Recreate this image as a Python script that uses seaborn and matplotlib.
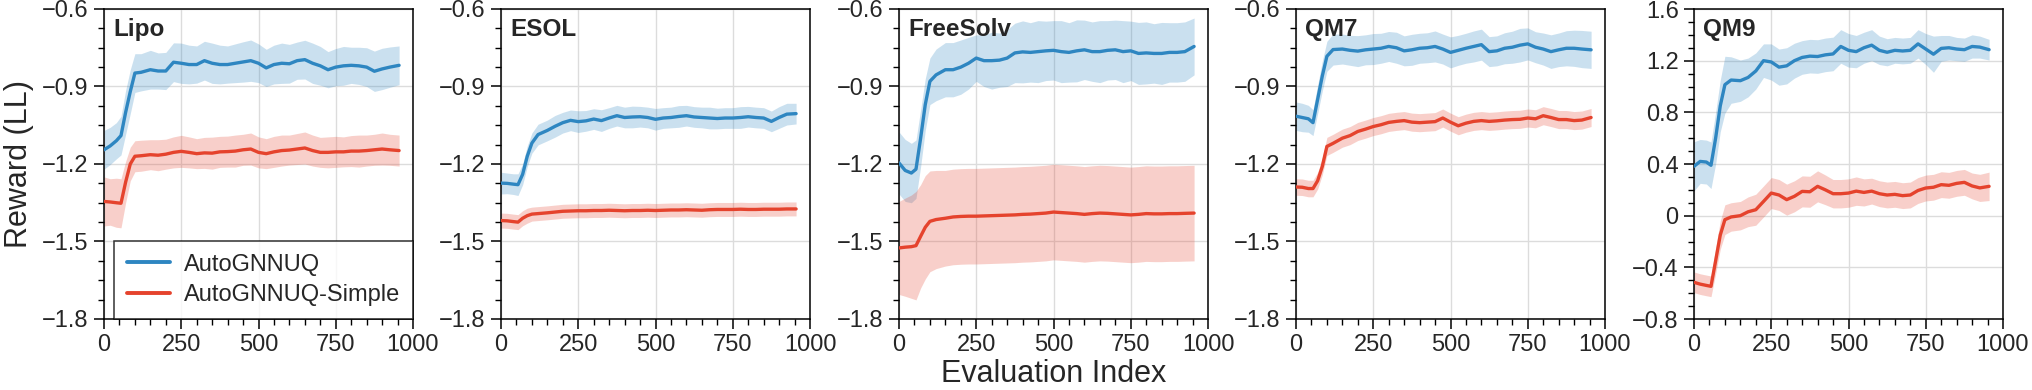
import numpy as np
import pandas as pd
import matplotlib
matplotlib.use("Agg")
import matplotlib.pyplot as plt
from matplotlib.ticker import MultipleLocator, FuncFormatter
from matplotlib.lines import Line2D
import seaborn as sns

# ---------------- data ----------------
x_index = [0, 20, 40, 55, 70, 85, 100, 120, 150, 175, 200, 225, 250, 275, 300, 325, 350, 375,
           400, 425, 450, 475, 500, 525, 550, 575, 600, 625, 650, 675, 700, 725, 750, 775,
           800, 825, 850, 875, 900, 925, 955]

datasets = ["Lipo", "ESOL", "FreeSolv", "QM7", "QM9"]
series_names = ["AutoGNNUQ", "AutoGNNUQ-Simple"]

lipo_full = [-1.145, -1.13, -1.11, -1.09, -1.0, -0.92, -0.848, -0.845, -0.835, -0.84, -0.84, -0.806,
             -0.81, -0.815, -0.815, -0.80, -0.81, -0.815, -0.815, -0.81, -0.805, -0.80, -0.81, -0.828,
             -0.815, -0.81, -0.812, -0.80, -0.796, -0.81, -0.82, -0.835, -0.825, -0.82, -0.818, -0.82,
             -0.825, -0.841, -0.832, -0.825, -0.818]
lipo_full_sd = [0.075, 0.072, 0.07, 0.075, 0.085, 0.085, 0.075, 0.072, 0.075, 0.07, 0.072, 0.075,
                0.078, 0.075, 0.072, 0.075, 0.078, 0.075, 0.072, 0.075, 0.078, 0.08, 0.075, 0.072,
                0.075, 0.078, 0.075, 0.072, 0.075, 0.078, 0.075, 0.07, 0.072, 0.075, 0.07, 0.072,
                0.075, 0.078, 0.08, 0.078, 0.075]
lipo_simple = [-1.345, -1.347, -1.35, -1.352, -1.27, -1.20, -1.17, -1.168, -1.164, -1.166, -1.162, -1.155,
               -1.151, -1.155, -1.16, -1.157, -1.158, -1.153, -1.152, -1.15, -1.145, -1.142, -1.155, -1.16,
               -1.153, -1.148, -1.146, -1.142, -1.138, -1.148, -1.155, -1.155, -1.153, -1.153, -1.15, -1.15,
               -1.148, -1.145, -1.142, -1.145, -1.148]
lipo_simple_sd = [0.095, 0.09, 0.095, 0.095, 0.08, 0.065, 0.06, 0.06, 0.058, 0.06, 0.058, 0.06,
                  0.062, 0.06, 0.058, 0.06, 0.062, 0.06, 0.06, 0.062, 0.06, 0.062, 0.06, 0.058,
                  0.06, 0.06, 0.058, 0.06, 0.062, 0.06, 0.058, 0.06, 0.06, 0.058, 0.06, 0.062,
                  0.06, 0.06, 0.062, 0.06, 0.06]

esol_full = [-1.274, -1.275, -1.278, -1.28, -1.24, -1.17, -1.119, -1.086, -1.07, -1.054, -1.04, -1.031,
             -1.036, -1.033, -1.026, -1.032, -1.022, -1.013, -1.02, -1.018, -1.017, -1.02, -1.027, -1.022,
             -1.02, -1.016, -1.013, -1.018, -1.02, -1.022, -1.024, -1.022, -1.022, -1.02, -1.017, -1.02,
             -1.022, -1.035, -1.02, -1.007, -1.005]
esol_full_sd = [0.042, 0.04, 0.04, 0.042, 0.04, 0.04, 0.039, 0.04, 0.04, 0.042, 0.04, 0.04,
                0.042, 0.04, 0.04, 0.042, 0.04, 0.04, 0.04, 0.042, 0.04, 0.04, 0.042, 0.04,
                0.04, 0.042, 0.04, 0.04, 0.04, 0.042, 0.04, 0.04, 0.04, 0.042, 0.04, 0.04,
                0.04, 0.04, 0.042, 0.042, 0.04]
esol_simple = [-1.419, -1.42, -1.423, -1.425, -1.41, -1.40, -1.394, -1.392, -1.389, -1.386, -1.383, -1.382,
               -1.381, -1.381, -1.380, -1.380, -1.379, -1.380, -1.381, -1.380, -1.380, -1.379, -1.380, -1.379,
               -1.378, -1.378, -1.377, -1.378, -1.379, -1.377, -1.376, -1.376, -1.376, -1.375, -1.376, -1.376,
               -1.375, -1.375, -1.375, -1.374, -1.374]
esol_simple_sd = [0.029] * 6 + [0.027] * 35

freesolv_full = [-1.196, -1.225, -1.235, -1.22, -1.10, -0.97, -0.88, -0.855, -0.835, -0.835, -0.825, -0.81,
                 -0.79, -0.80, -0.80, -0.798, -0.79, -0.77, -0.766, -0.768, -0.765, -0.762, -0.76, -0.765,
                 -0.768, -0.762, -0.758, -0.765, -0.765, -0.76, -0.758, -0.765, -0.762, -0.772, -0.77, -0.772,
                 -0.772, -0.768, -0.768, -0.765, -0.745]
freesolv_full_sd = [0.12, 0.12, 0.115, 0.113, 0.11, 0.1, 0.09, 0.1, 0.105, 0.105, 0.105, 0.1,
                    0.09, 0.1, 0.11, 0.105, 0.11, 0.115, 0.12, 0.115, 0.12, 0.115, 0.115, 0.12,
                    0.115, 0.12, 0.115, 0.115, 0.12, 0.115, 0.115, 0.12, 0.115, 0.12, 0.12, 0.115,
                    0.12, 0.115, 0.115, 0.115, 0.11]
freesolv_simple = [-1.525, -1.522, -1.52, -1.516, -1.48, -1.445, -1.422, -1.415, -1.41, -1.405, -1.403, -1.402,
                   -1.402, -1.401, -1.40, -1.399, -1.398, -1.397, -1.395, -1.394, -1.392, -1.39, -1.386, -1.388,
                   -1.39, -1.392, -1.395, -1.392, -1.39, -1.391, -1.393, -1.395, -1.397, -1.395, -1.392, -1.393,
                   -1.393, -1.392, -1.392, -1.391, -1.39]
freesolv_simple_sd = [0.18, 0.19, 0.2, 0.21, 0.2, 0.2, 0.195, 0.19, 0.185, 0.185, 0.185, 0.185,
                      0.185, 0.185, 0.185, 0.185, 0.185, 0.185, 0.185, 0.185, 0.185, 0.185, 0.185, 0.185,
                      0.185, 0.185, 0.185, 0.185, 0.185, 0.185, 0.185, 0.185, 0.185, 0.185, 0.185, 0.185,
                      0.185, 0.185, 0.185, 0.185, 0.185]

qm7_full = [-1.015, -1.02, -1.025, -1.04, -0.95, -0.86, -0.783, -0.757, -0.755, -0.76, -0.763, -0.758,
            -0.755, -0.752, -0.745, -0.75, -0.762, -0.758, -0.752, -0.75, -0.745, -0.755, -0.768, -0.76,
            -0.752, -0.745, -0.738, -0.765, -0.762, -0.752, -0.748, -0.74, -0.735, -0.748, -0.755, -0.765,
            -0.758, -0.752, -0.752, -0.755, -0.758]
qm7_full_sd = [0.055, 0.055, 0.052, 0.05, 0.055, 0.058, 0.058, 0.06, 0.058, 0.058, 0.06, 0.058,
               0.06, 0.058, 0.058, 0.06, 0.058, 0.06, 0.058, 0.058, 0.06, 0.058, 0.06, 0.058,
               0.058, 0.06, 0.06, 0.058, 0.058, 0.06, 0.062, 0.065, 0.062, 0.06, 0.062, 0.065,
               0.065, 0.068, 0.07, 0.072, 0.072]
qm7_simple = [-1.289, -1.29, -1.295, -1.295, -1.265, -1.21, -1.132, -1.12, -1.10, -1.09, -1.074, -1.065,
              -1.055, -1.048, -1.039, -1.035, -1.032, -1.038, -1.04, -1.038, -1.036, -1.022, -1.038, -1.052,
              -1.042, -1.035, -1.032, -1.035, -1.033, -1.03, -1.028, -1.027, -1.022, -1.025, -1.013, -1.02,
              -1.028, -1.028, -1.032, -1.03, -1.02]
qm7_simple_sd = [0.032] * 6 + [0.035] * 35

qm9_full = [0.382, 0.42, 0.415, 0.39, 0.6, 0.85, 1.014, 1.05, 1.045, 1.07, 1.12, 1.2,
            1.19, 1.15, 1.16, 1.2, 1.225, 1.235, 1.232, 1.245, 1.252, 1.31, 1.28, 1.27,
            1.3, 1.32, 1.28, 1.265, 1.28, 1.275, 1.28, 1.33, 1.29, 1.25, 1.295, 1.3,
            1.29, 1.285, 1.31, 1.305, 1.285]
qm9_full_sd = [0.19, 0.17, 0.17, 0.18, 0.2, 0.2, 0.22, 0.18, 0.16, 0.15, 0.14, 0.13,
               0.14, 0.14, 0.14, 0.135, 0.13, 0.13, 0.13, 0.13, 0.13, 0.13, 0.13, 0.125,
               0.12, 0.12, 0.11, 0.105, 0.1, 0.1, 0.1, 0.11, 0.12, 0.14, 0.1, 0.095,
               0.09, 0.09, 0.09, 0.085, 0.08]
qm9_simple = [-0.516, -0.53, -0.54, -0.547, -0.35, -0.15, -0.031, -0.01, 0.0, 0.03, 0.046, 0.11,
              0.175, 0.16, 0.124, 0.15, 0.188, 0.185, 0.227, 0.2, 0.17, 0.17, 0.175, 0.19,
              0.18, 0.19, 0.17, 0.16, 0.165, 0.155, 0.16, 0.195, 0.214, 0.22, 0.24, 0.235,
              0.25, 0.258, 0.23, 0.215, 0.227]
qm9_simple_sd = [0.08, 0.08, 0.08, 0.08, 0.1, 0.11, 0.115, 0.11, 0.11, 0.115, 0.12, 0.12,
                 0.12, 0.12, 0.12, 0.12, 0.12, 0.12, 0.12, 0.115, 0.11, 0.11, 0.11, 0.11,
                 0.105, 0.1, 0.1, 0.1, 0.1, 0.1, 0.1, 0.1, 0.1, 0.1, 0.1, 0.1,
                 0.1, 0.1, 0.1, 0.105, 0.11]

means = {
    "Lipo": (lipo_full, lipo_simple),
    "ESOL": (esol_full, esol_simple),
    "FreeSolv": (freesolv_full, freesolv_simple),
    "QM7": (qm7_full, qm7_simple),
    "QM9": (qm9_full, qm9_simple),
}
spreads = {
    "Lipo": (lipo_full_sd, lipo_simple_sd),
    "ESOL": (esol_full_sd, esol_simple_sd),
    "FreeSolv": (freesolv_full_sd, freesolv_simple_sd),
    "QM7": (qm7_full_sd, qm7_simple_sd),
    "QM9": (qm9_full_sd, qm9_simple_sd),
}
y_limits = {
    "Lipo": (-1.8, -0.6), "ESOL": (-1.8, -0.6), "FreeSolv": (-1.8, -0.6),
    "QM7": (-1.8, -0.6), "QM9": (-0.8, 1.6),
}
y_major = {"Lipo": 0.3, "ESOL": 0.3, "FreeSolv": 0.3, "QM7": 0.3, "QM9": 0.4}

# ---------------- style ----------------
sns.set_theme(style="ticks")
plt.rcParams["font.family"] = ["Liberation Sans", "DejaVu Sans"]
plt.rcParams["axes.unicode_minus"] = True

colors = {"AutoGNNUQ": "#2e86c1", "AutoGNNUQ-Simple": "#e5432d"}

W, H = 2032, 390
fig = plt.figure(figsize=(W / 100, H / 100), dpi=100)

lefts = [104, 501, 899, 1296, 1694]
ax_w = 309
top_px, bot_px = 9, 319

def fmt(v, pos):
    if abs(v) < 1e-9:
        return "0"
    s = "%g" % v
    return s.replace("-", "\u2212")

axes = []
for i, name in enumerate(datasets):
    ax = fig.add_axes([lefts[i] / W, (H - bot_px) / H, ax_w / W, (bot_px - top_px) / H])
    axes.append(ax)
    rows = []
    for s_idx, sname in enumerate(series_names):
        m = np.array(means[name][s_idx])
        sd = np.array(spreads[name][s_idx])
        ax.fill_between(x_index, m - sd, m + sd, color=colors[sname], alpha=0.25,
                        linewidth=0, zorder=2)
        for xv, yv in zip(x_index, m):
            rows.append({"x": xv, "y": yv, "series": sname})
    df = pd.DataFrame(rows)
    sns.lineplot(data=df, x="x", y="y", hue="series", palette=colors, ax=ax,
                 linewidth=2.4, legend=False, zorder=3, estimator=None)
    ax.set_xlim(0, 1000)
    ax.set_ylim(*y_limits[name])
    ax.xaxis.set_major_locator(MultipleLocator(250))
    ax.xaxis.set_minor_locator(MultipleLocator(50))
    ax.yaxis.set_major_locator(MultipleLocator(y_major[name]))
    ax.yaxis.set_minor_locator(MultipleLocator(y_major[name] / 4))
    ax.yaxis.set_major_formatter(FuncFormatter(fmt))
    ax.grid(True, which="major", color="#dcdcdc", linewidth=1.0, zorder=0)
    ax.set_axisbelow(True)
    ax.tick_params(axis="both", which="major", labelsize=17, length=7, width=1.1,
                   direction="out", color="black", pad=4)
    ax.tick_params(axis="both", which="minor", length=4, width=1.0, direction="out", color="black")
    for sp in ax.spines.values():
        sp.set_visible(True)
        sp.set_color("black")
        sp.set_linewidth(1.1)
    ax.set_xlabel("")
    ax.set_ylabel("")
    ax.text(0.03, 0.97, name, transform=ax.transAxes, ha="left", va="top",
            fontsize=17.5, fontweight="bold", zorder=5)

axes[0].set_ylabel("Reward (LL)", fontsize=22, labelpad=6)
axes[2].set_xlabel("Evaluation Index", fontsize=22, labelpad=2)

handles = [Line2D([0], [0], color=colors[s], linewidth=2.8) for s in series_names]
leg = axes[0].legend(handles, series_names, loc="lower right", borderaxespad=0,
                     fontsize=17, frameon=True, fancybox=False, edgecolor="black",
                     handlelength=1.8, handletextpad=0.6, labelspacing=0.35,
                     borderpad=0.55)
leg.get_frame().set_linewidth(1.1)
leg.set_zorder(10)

fig.savefig("out.png", dpi=100)
